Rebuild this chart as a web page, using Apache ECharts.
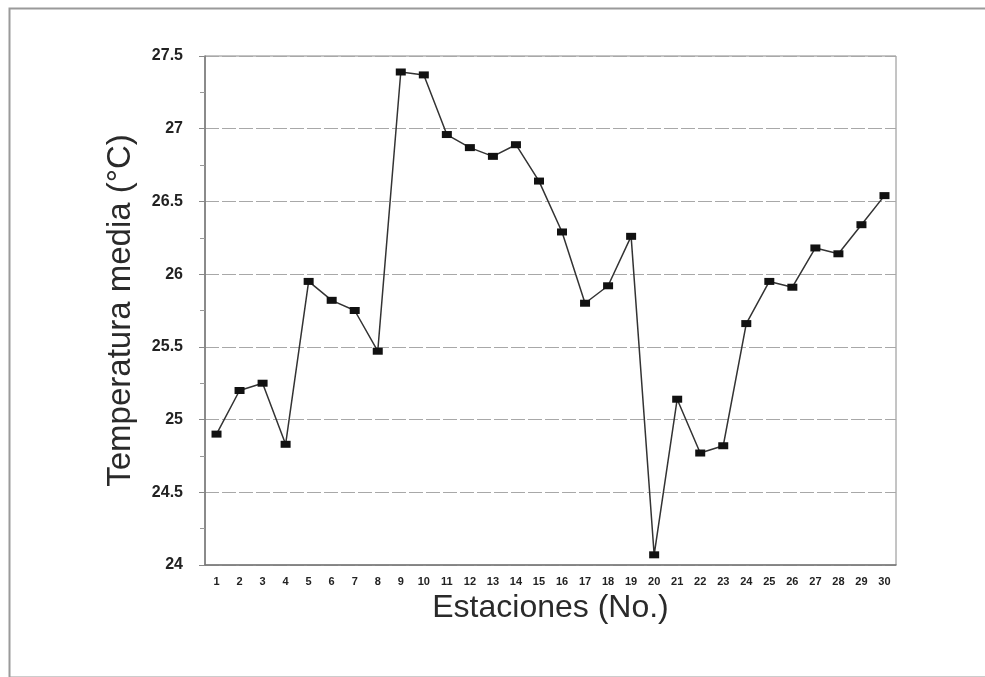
<!DOCTYPE html>
<html>
<head>
<meta charset="utf-8">
<script src="https://cdn.jsdelivr.net/npm/echarts@6/dist/echarts.min.js"></script>
<style>html,body{margin:0;padding:0;background:#fff;}#c{width:985px;height:677px;}</style>
</head>
<body>
<div id="c"></div>
<script>
var stations = ['1','2','3','4','5','6','7','8','9','10','11','12','13','14','15','16','17','18','19','20','21','22','23','24','25','26','27','28','29','30'];
var tempMedia = [24.90,25.20,25.25,24.83,25.95,25.82,25.75,25.47,27.39,27.37,26.96,26.87,26.81,26.89,26.64,26.29,25.80,25.92,26.26,24.07,25.14,24.77,24.82,25.66,25.95,25.91,26.18,26.14,26.34,26.54];
var yMin = 24, yMax = 27.5, yStep = 0.5;
var yTitle = 'Temperatura media (°C)';
var xTitle = 'Estaciones (No.)';

var chart = echarts.init(document.getElementById('c'));
chart.setOption({
  animation: false,
  backgroundColor: '#fff',
  graphic: [{
    type: 'rect', left: 7, top: 6, shape: {width: 1000, height: 669},
    style: {fill: 'none', stroke: '#9a9a9a', lineWidth: 2}, silent: true
  }],
  grid: {left: 205, right: 89, top: 56, bottom: 112, show: true, borderColor: '#8a8a8a', borderWidth: 1, backgroundColor: 'transparent'},
  xAxis: {
    type: 'category', data: stations, boundaryGap: true,
    name: xTitle, nameLocation: 'middle', nameGap: 26,
    nameTextStyle: {fontFamily: 'Liberation Sans, Arial, sans-serif', fontSize: 32, color: '#2a2a2a'},
    axisLine: {lineStyle: {color: '#777', width: 1.5}},
    axisTick: {show: false},
    axisLabel: {interval: 0, fontFamily: 'Liberation Sans, Arial, sans-serif', fontSize: 11, fontWeight: 'bold', color: '#222', margin: 11},
    splitLine: {show: false}
  },
  yAxis: {
    type: 'value', min: yMin, max: yMax, interval: yStep,
    name: yTitle, nameLocation: 'middle', nameGap: 68,
    nameTextStyle: {fontFamily: 'Liberation Sans, Arial, sans-serif', fontSize: 33, color: '#2a2a2a'},
    axisLine: {show: true, lineStyle: {color: '#777', width: 1.5}},
    axisTick: {show: true, length: 6, lineStyle: {color: '#888'}},
    minorTick: {show: true, splitNumber: 2, length: 5, lineStyle: {color: '#999'}},
    axisLabel: {fontFamily: 'Liberation Sans, Arial, sans-serif', fontSize: 16, fontWeight: 'bold', color: '#222', margin: 22,
      formatter: function(v){ return String(Math.round(v*10)/10); }},
    splitLine: {show: true, lineStyle: {color: '#a8a8a8', width: 1, type: [14, 3]}}
  },
  series: [{
    type: 'line', data: tempMedia,
    symbol: 'rect', symbolSize: [10, 7],
    itemStyle: {color: '#111'},
    lineStyle: {color: '#333', width: 1.5},
    z: 3
  }]
});
</script>
</body>
</html>
